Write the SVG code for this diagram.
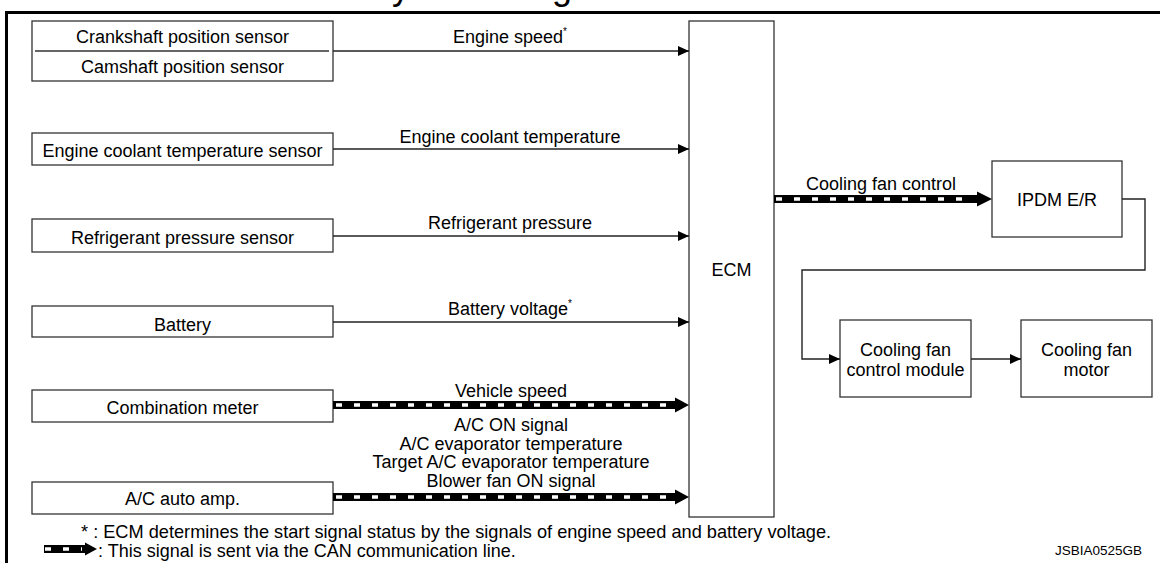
<svg xmlns="http://www.w3.org/2000/svg" width="1160" height="563" viewBox="0 0 1160 563">
<style>
.t{font-family:"Liberation Sans",Arial,sans-serif;font-size:18px;fill:#000}
.m{text-anchor:middle}
.box{fill:#fff;stroke:#333;stroke-width:1.3}
.ln{fill:none;stroke:#222;stroke-width:1.4}
.canb{stroke:#000;stroke-width:8;fill:none}
.canw{stroke:#fff;stroke-width:3.5;stroke-dasharray:6 12;fill:none}
.ah{fill:#000}
</style>
<defs>
<marker id="arr" markerUnits="userSpaceOnUse" markerWidth="12" markerHeight="10" refX="11" refY="5" orient="auto"><path d="M0,0 L11,5 L0,10 z" fill="#000"/></marker>
</defs>
<rect width="1160" height="563" fill="#fff"/>
<text class="t" x="368" y="-1" style="font-size:36px">System Diagram</text>
<path d="M6.5,563 V12.5 H1160" fill="none" stroke="#000" stroke-width="3"/>

<g id="crank-cam">
<rect class="box" x="32" y="21" width="301" height="60"/>
<line x1="35" y1="51" x2="329" y2="51" stroke="#333" stroke-width="1.3"/>
<text class="t m" x="182.5" y="43">Crankshaft position sensor</text>
<text class="t m" x="182.5" y="73">Camshaft position sensor</text>
</g>
<g id="ects">
<rect class="box" x="32" y="133" width="301" height="32"/>
<text class="t m" x="182.5" y="157">Engine coolant temperature sensor</text>
</g>
<g id="refrig">
<rect class="box" x="32" y="219" width="301" height="33"/>
<text class="t m" x="182.5" y="244">Refrigerant pressure sensor</text>
</g>
<g id="battery">
<rect class="box" x="32" y="306" width="301" height="31"/>
<text class="t m" x="182.5" y="331">Battery</text>
</g>
<g id="combi">
<rect class="box" x="32" y="390" width="301" height="32"/>
<text class="t m" x="182.5" y="414">Combination meter</text>
</g>
<g id="acamp">
<rect class="box" x="32" y="482" width="301" height="32"/>
<text class="t m" x="182.5" y="505">A/C auto amp.</text>
</g>
<g id="ecm">
<rect class="box" x="689" y="21" width="85" height="496"/>
<text class="t m" x="731.5" y="276">ECM</text>
</g>
<g id="ipdm">
<rect class="box" x="992" y="161" width="130" height="76"/>
<text class="t m" x="1057" y="206">IPDM E/R</text>
</g>
<g id="cfcm">
<rect class="box" x="840" y="320" width="131" height="77"/>
<text class="t m" x="905.5" y="356">Cooling fan</text>
<text class="t m" x="905.5" y="376">control module</text>
</g>
<g id="motor">
<rect class="box" x="1021" y="320" width="131" height="77"/>
<text class="t m" x="1086.5" y="356">Cooling fan</text>
<text class="t m" x="1086.5" y="376">motor</text>
</g>

<g id="connectors">
<line class="ln" x1="333" y1="51" x2="689" y2="51" marker-end="url(#arr)"/>
<line class="ln" x1="333" y1="149" x2="689" y2="149" marker-end="url(#arr)"/>
<line class="ln" x1="333" y1="236" x2="689" y2="236" marker-end="url(#arr)"/>
<line class="ln" x1="333" y1="322" x2="689" y2="322" marker-end="url(#arr)"/>
<line class="canb" x1="333" y1="405" x2="677" y2="405"/>
<line class="canw" x1="336" y1="405" x2="672" y2="405"/>
<polygon class="ah" points="675,397.5 689,405 675,412.5"/>
<line class="canb" x1="333" y1="497" x2="677" y2="497"/>
<line class="canw" x1="336" y1="497" x2="672" y2="497"/>
<polygon class="ah" points="675,489.5 689,497 675,504.5"/>
<line class="canb" x1="774" y1="199" x2="980" y2="199"/>
<line class="canw" x1="776" y1="199" x2="974" y2="199"/>
<polygon class="ah" points="977,191.5 992,199 977,206.5"/>
<polyline class="ln" points="1122,199 1145,199 1145,270 802,270 802,359 840,359" marker-end="url(#arr)"/>
<line class="ln" x1="971" y1="359" x2="1021" y2="359" marker-end="url(#arr)"/>
</g>

<g id="labels">
<text class="t m" x="510" y="43">Engine speed<tspan dy="-8" font-size="10">*</tspan></text>
<text class="t m" x="510" y="143">Engine coolant temperature</text>
<text class="t m" x="510" y="229">Refrigerant pressure</text>
<text class="t m" x="510" y="315">Battery voltage<tspan dy="-8" font-size="10">*</tspan></text>
<text class="t m" x="511" y="397">Vehicle speed</text>
<text class="t m" x="511" y="431">A/C ON signal</text>
<text class="t m" x="511" y="449.5">A/C evaporator temperature</text>
<text class="t m" x="511" y="468">Target A/C evaporator temperature</text>
<text class="t m" x="511" y="486.5">Blower fan ON signal</text>
<text class="t m" x="881" y="190">Cooling fan control</text>
</g>

<g id="legend">
<text class="t" x="81" y="538" style="font-size:18.2px">* : ECM determines the start signal status by the signals of engine speed and battery voltage.</text>
<line class="canb" x1="44" y1="549" x2="86" y2="549"/>
<line class="canw" x1="45" y1="549" x2="82" y2="549"/>
<polygon class="ah" points="85,542.5 97,549 85,555.5"/>
<text class="t" x="98" y="557">: This signal is sent via the CAN communication line.</text>
<text class="t" x="1142" y="555" style="font-size:13.5px;text-anchor:end">JSBIA0525GB</text>
</g>
</svg>
